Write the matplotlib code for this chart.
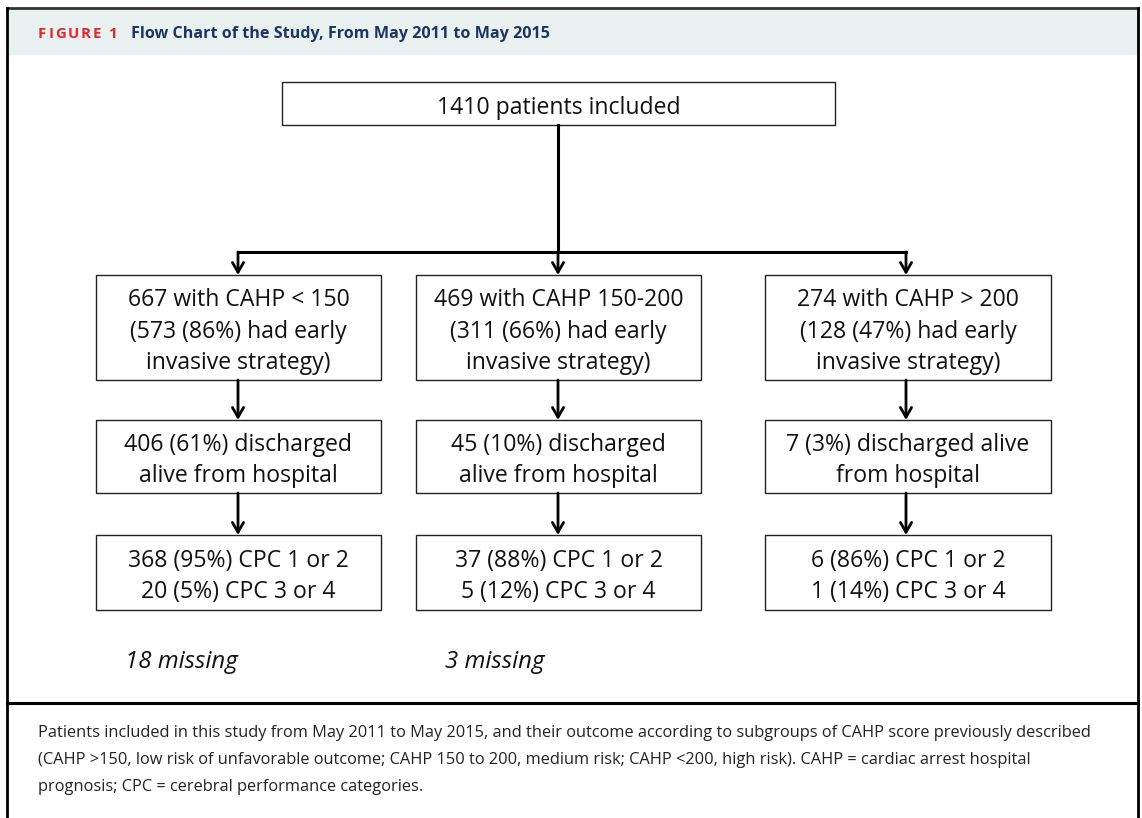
"""
Figure 1 - flow chart of the study, May 2011 to May 2015
"""

import matplotlib

matplotlib.use("Agg")
import matplotlib.pyplot as plt
from matplotlib.patches import Rectangle

# ── Theme ──────────────────────────────────────────────
RED = "#E2272F"
NAVY = "#1D3563"
HEADER_BG = "#E9F1F0"
FONT = "Open Sans"

# ── Data ───────────────────────────────────────────────
fig_label = "FIGURE 1"
fig_title = "Flow Chart of the Study, From May 2011 to May 2015"

top_text = "1410 patients included"

group_texts = [
    "667 with CAHP < 150\n(573 (86%) had early\ninvasive strategy)",
    "469 with CAHP 150-200\n(311 (66%) had early\ninvasive strategy)",
    "274 with CAHP > 200\n(128 (47%) had early\ninvasive strategy)",
]
discharge_texts = [
    "406 (61%) discharged\nalive from hospital",
    "45 (10%) discharged\nalive from hospital",
    "7 (3%) discharged alive\nfrom hospital",
]
cpc_texts = [
    "368 (95%) CPC 1 or 2\n20 (5%) CPC 3 or 4",
    "37 (88%) CPC 1 or 2\n5 (12%) CPC 3 or 4",
    "6 (86%) CPC 1 or 2\n1 (14%) CPC 3 or 4",
]
missing_texts = ["18 missing", "3 missing", ""]

caption_lines = [
    "Patients included in this study from May 2011 to May 2015, and their outcome according to subgroups of CAHP score previously described",
    "(CAHP >150, low risk of unfavorable outcome; CAHP 150 to 200, medium risk; CAHP <200, high risk). CAHP = cardiac arrest hospital",
    "prognosis; CPC = cerebral performance categories.",
]

# ── Layout (pixel coordinates, y downward) ────────────
W, H = 1142, 818
col_left = [96, 416, 765]
col_right = [381, 701, 1051]
col_mid = [238, 558, 906]
rows = [(275, 380), (420, 493), (535, 610)]
top_box = (282, 82, 835, 125)
branch_y = 252

fig = plt.figure(figsize=(W / 100, H / 100), dpi=100)
ax = fig.add_axes([0, 0, 1, 1])
ax.set_xlim(0, W)
ax.set_ylim(H, 0)
ax.axis("off")

# Frame and header band
ax.add_patch(Rectangle((7, 9), 1131, 46, facecolor=HEADER_BG, edgecolor="none"))
ax.plot([7, 1138], [8, 8], color="#333333", lw=2)
ax.plot([7, 7], [8, H], color="black", lw=2)
ax.plot([1138, 1138], [8, H], color="black", lw=2)
ax.plot([7, 1138], [703, 703], color="black", lw=2.2)

# "FIGURE 1" with letter tracking, drawn char by char
renderer = fig.canvas.get_renderer()
x = 38
for ch in fig_label:
    t = ax.text(x, 34, ch, color=RED, fontsize=10.8, fontweight="bold",
                family=FONT, va="center", ha="left")
    wpx = t.get_window_extent(renderer).width if ch != " " else 3
    x += wpx + 1.9
ax.text(131, 34, fig_title, color=NAVY, fontsize=11.6, fontweight="bold",
        family=FONT, va="center", ha="left")


def box(x0, y0, x1, y1, text):
    ax.add_patch(Rectangle((x0, y0), x1 - x0, y1 - y0, facecolor="white",
                           edgecolor="#222222", lw=1.0))
    ax.text((x0 + x1) / 2, (y0 + y1) / 2 + 4, text, ha="center", va="center",
            fontsize=16.6, family=FONT, color="#111111", linespacing=1.41)


def arrow(x, y0, y1):
    ax.annotate("", xy=(x, y1), xytext=(x, y0),
                arrowprops=dict(arrowstyle="->,head_length=0.7,head_width=0.4",
                                lw=2, color="black", shrinkA=0, shrinkB=0))


box(*top_box, top_text)
ax.plot([558, 558], [top_box[3], branch_y], color="black", lw=2.2)
ax.plot([col_mid[0], col_mid[2]], [branch_y, branch_y], color="black", lw=2.2)

levels = [group_texts, discharge_texts, cpc_texts]
for i in range(3):
    arrow(col_mid[i], branch_y, rows[0][0])
    for r, texts in enumerate(levels):
        box(col_left[i], rows[r][0], col_right[i], rows[r][1], texts[i])
        if r > 0:
            arrow(col_mid[i], rows[r - 1][1], rows[r][0])
    if missing_texts[i]:
        ax.text(col_left[i] + 29, 662, missing_texts[i], ha="left", va="center",
                fontsize=17.3, style="italic", family=FONT, color="#111111")

for k, line in enumerate(caption_lines):
    ax.text(38, 733 + 27 * k, line, ha="left", va="center", fontsize=11.8,
            family=FONT, color="#222222")

fig.savefig("out.png", dpi=100, facecolor="white")
plt.close()
